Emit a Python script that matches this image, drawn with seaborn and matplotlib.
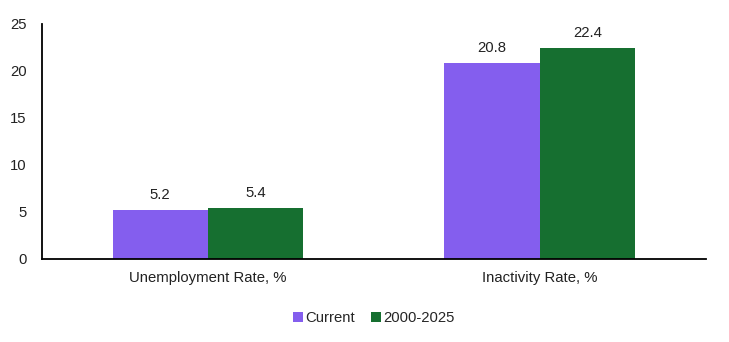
import matplotlib
matplotlib.use("Agg")
import matplotlib.pyplot as plt
import seaborn as sns
import pandas as pd

categories = ["Unemployment Rate, %", "Inactivity Rate, %"]
series = ["Current", "2000-2025"]
current = [5.2, 20.8]
avg = [5.4, 22.4]
colors = ["#845EEE", "#166F30"]

df = pd.DataFrame({
    "cat": categories * 2,
    "series": [series[0]] * 2 + [series[1]] * 2,
    "value": current + avg,
})

sns.set_style("white")
plt.rcParams["font.family"] = ["Liberation Sans", "DejaVu Sans"]
fs = 10.7
plt.rcParams["font.size"] = fs

fig = plt.figure(figsize=(7.29, 3.42), dpi=100)
ax = fig.add_axes([0.0576, 0.243, 0.9104, 0.687])
sns.barplot(data=df, x="cat", y="value", hue="series", palette=colors,
            width=0.575, saturation=1, ax=ax, legend=True, linewidth=0)
for c in ax.containers:
    ax.bar_label(c, labels=[f"{v:.1f}" for v in c.datavalues], padding=6, fontsize=fs, color="#222222")
ax.set_xlim(-0.5, 1.5)
ax.set_ylim(0, 25)
ax.set_yticks([0, 5, 10, 15, 20, 25])
ax.set_xlabel("")
ax.set_ylabel("")
for s in ["top", "right"]:
    ax.spines[s].set_visible(False)
for s in ["left", "bottom"]:
    ax.spines[s].set_color("black")
    ax.spines[s].set_linewidth(1.3)
ax.tick_params(axis="both", length=0, labelsize=fs, colors="#222222")
ax.tick_params(axis="x", pad=9)
ax.tick_params(axis="y", pad=11)
leg = ax.legend(loc="upper center", bbox_to_anchor=(0.5, -0.165), ncol=2, frameon=False,
                handlelength=0.65, handleheight=0.65, handletextpad=0.15, columnspacing=1.1, fontsize=fs)
fig.savefig("out.png", dpi=100)
